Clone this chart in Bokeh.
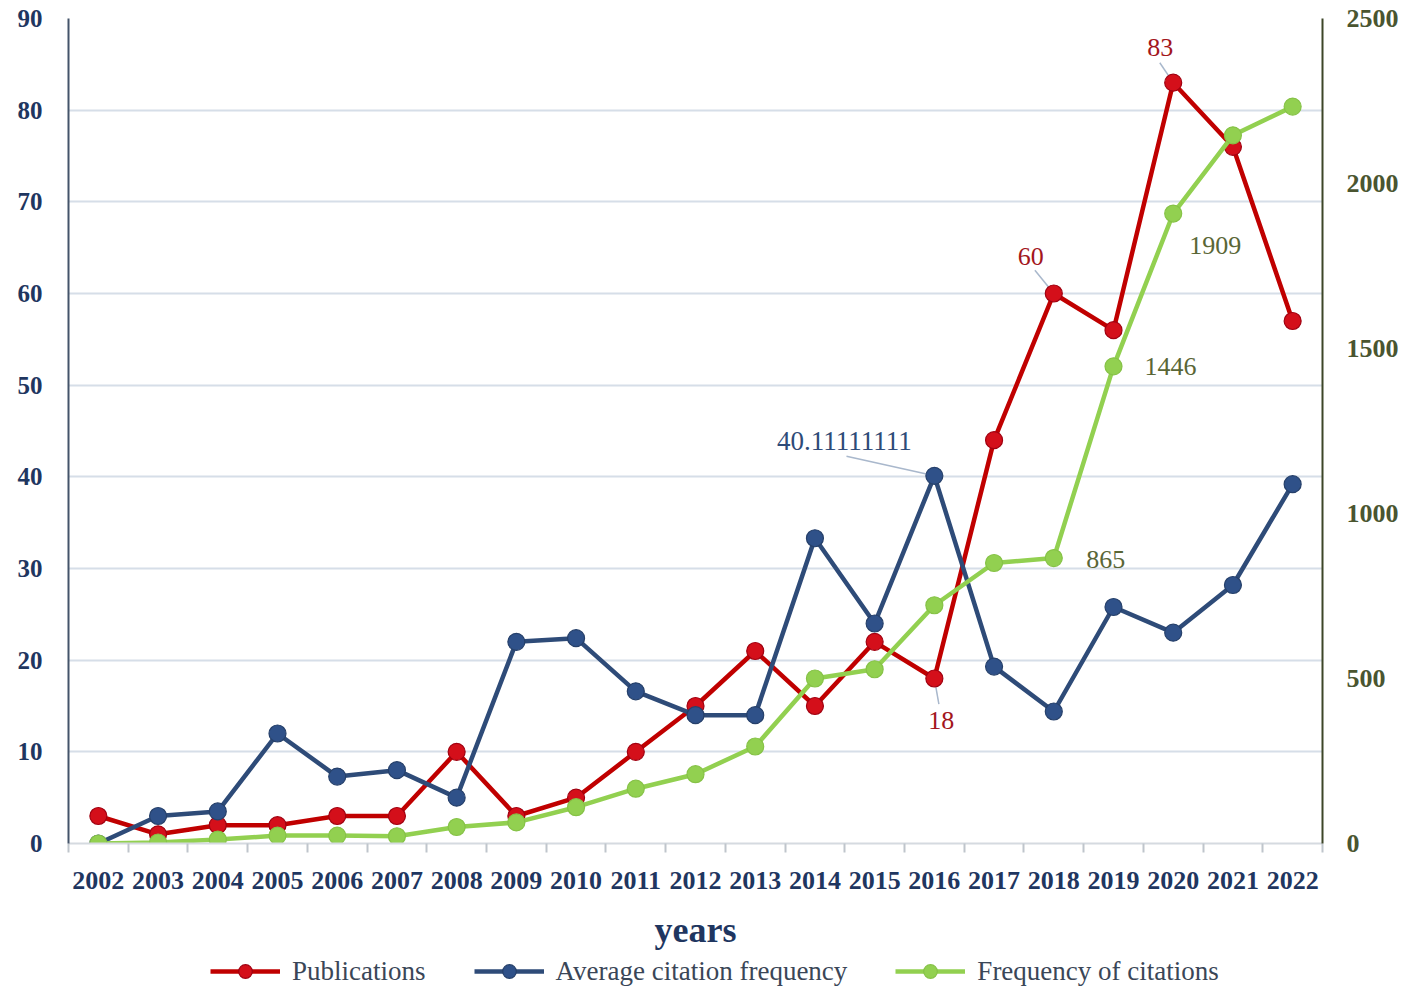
import math
from bokeh.plotting import figure
from bokeh.layouts import column
from bokeh.models import (Range1d, LinearAxis, FixedTicker, ColumnDataSource,
                          Legend, LegendItem)
from bokeh.core.properties import value
from bokeh.embed import file_html
from bokeh.resources import INLINE

years = list(range(2002, 2023))
publications = [3, 1, 2, 2, 3, 3, 10, 3, 5, 10, 15, 21, 15, 22, 18, 44, 60, 56, 83, 76, 57]
avg_citation = [0, 3, 3.5, 12, 7.3, 8, 5, 22, 22.4, 16.6, 14, 14, 33.3, 24, 40.11111111,
                19.3, 14.4, 25.8, 23, 28.2, 39.2]
citations = [0, 3, 12, 24, 24, 22, 50, 64, 110, 166, 210, 294, 500, 528, 722,
             850, 865, 1446, 1909, 2146, 2233]
left_ticks = [0, 10, 20, 30, 40, 50, 60, 70, 80, 90]
right_ticks = [0, 500, 1000, 1500, 2000, 2500]
series_names = ["Publications", "Average citation frequency", "Frequency of citations"]

SERIF = "Liberation Serif"
RED = "#C00000"
RED_M = "#D40F1A"
BLUE = "#2E4B78"
BLUE_M = "#2F5189"
GREEN = "#92D050"
NAVY = "#1F3660"
OLIVE = "#4A5530"

p = figure(frame_width=1254, frame_height=825, output_backend="svg", toolbar_location=None,
           x_range=Range1d(years[0] - 0.5, years[-1] + 0.5),
           y_range=Range1d(left_ticks[0], left_ticks[-1]),
           min_border_left=68, min_border_right=80, min_border_top=18,
           min_border_bottom=0)
p.outline_line_color = None
p.background_fill_color = "white"
p.extra_y_ranges = {"right": Range1d(right_ticks[0], right_ticks[-1])}

# x axis
xa = p.xaxis[0]
xa.ticker = FixedTicker(ticks=years, minor_ticks=[y - 0.5 for y in years] + [years[-1] + 0.5])
xa.major_tick_line_color = None
xa.minor_tick_line_color = "#BFC5CC"
xa.minor_tick_line_width = 2
xa.minor_tick_out = 9
xa.minor_tick_in = 0
xa.axis_line_color = "#D5DAE0"
xa.axis_line_width = 2
xa.major_label_text_font = SERIF
xa.major_label_text_font_style = "bold"
xa.major_label_text_font_size = "26px"
xa.major_label_text_color = NAVY
xa.major_label_standoff = 19
xa.axis_label = "years"
xa.axis_label_text_font = SERIF
xa.axis_label_text_font_style = "bold"
xa.axis_label_text_font_size = "36px"
xa.axis_label_text_color = NAVY
xa.axis_label_standoff = 18

# left axis
ya = p.yaxis[0]
ya.ticker = FixedTicker(ticks=left_ticks)
ya.major_tick_line_color = None
ya.minor_tick_line_color = None
ya.axis_line_color = "#44546A"
ya.axis_line_width = 2
ya.major_label_text_font = SERIF
ya.major_label_text_font_style = "bold"
ya.major_label_text_font_size = "25px"
ya.major_label_text_color = NAVY
ya.major_label_standoff = 20

# right axis
ra = LinearAxis(y_range_name="right", ticker=FixedTicker(ticks=right_ticks))
ra.major_tick_line_color = None
ra.minor_tick_line_color = None
ra.axis_line_color = "#3D4628"
ra.axis_line_width = 2
ra.major_label_text_font = SERIF
ra.major_label_text_font_style = "bold"
ra.major_label_text_font_size = "26px"
ra.major_label_text_color = OLIVE
ra.major_label_standoff = 18
p.add_layout(ra, "right")

p.xgrid.grid_line_color = None
p.ygrid.ticker = FixedTicker(ticks=left_ticks[1:])
p.ygrid.grid_line_color = "#D6DEE8"
p.ygrid.grid_line_width = 2

src = ColumnDataSource(dict(x=years, pub=publications, avg=avg_citation, cit=citations))

def idx(y):
    return years.index(y)

# leader lines (drawn first, under markers)
lead = ColumnDataSource(dict(
    x=[2020, 2018, 2016],
    y=[publications[idx(2020)], publications[idx(2018)], publications[idx(2016)]],
    angle=[math.radians(124), math.radians(129), math.radians(-80)],
    length=[24, 30, 26],
))
p.ray(x="x", y="y", angle="angle", length="length", length_units="screen", source=lead,
      line_color="#A9B8CC", line_width=1.5)
p.ray(x=[2016], y=[avg_citation[idx(2016)]], angle=math.radians(167.5), length=90,
      length_units="screen", line_color="#A9B8CC", line_width=1.5)

p.line(x="x", y="pub", source=src, line_color=RED, line_width=4.5)
p.scatter(x="x", y="pub", source=src, size=17, fill_color=RED_M,
          line_color="#A00010", line_width=1.2)
p.line(x="x", y="avg", source=src, line_color=BLUE, line_width=4.5)
p.scatter(x="x", y="avg", source=src, size=17, fill_color=BLUE_M,
          line_color="#26406A", line_width=1.2)
p.line(x="x", y="cit", source=src, line_color=GREEN, line_width=4.5, y_range_name="right")
p.scatter(x="x", y="cit", source=src, size=17, fill_color=GREEN,
          line_color="#86C247", line_width=1.2, y_range_name="right")

# data labels (positive y_offset = downwards)
pub_lab = ColumnDataSource(dict(
    x=[2020, 2018, 2016],
    y=[publications[idx(2020)], publications[idx(2018)], publications[idx(2016)]],
    t=[str(publications[idx(2020)]), str(publications[idx(2018)]), str(publications[idx(2016)])],
    xo=[-13, -23, 7], yo=[-35, -37, 42],
))
p.text(x="x", y="y", text="t", x_offset="xo", y_offset="yo", source=pub_lab,
       text_font=value(SERIF), text_font_size="26px", text_color="#A3161C",
       text_align="center", text_baseline="middle")
p.text(x=[2016], y=[avg_citation[idx(2016)]], text=["40.11111111"], x_offset=-90,
       y_offset=-35, text_font=value(SERIF), text_font_size="27px", text_color=BLUE,
       text_align="center", text_baseline="middle")
cit_lab = ColumnDataSource(dict(
    x=[2020, 2019, 2018],
    y=[citations[idx(2020)], citations[idx(2019)], citations[idx(2018)]],
    t=[str(citations[idx(2020)]), str(citations[idx(2019)]), str(citations[idx(2018)])],
    xo=[42, 57, 52], yo=[32, 0, 1],
))
p.text(x="x", y="y", text="t", x_offset="xo", y_offset="yo", source=cit_lab,
       y_range_name="right", text_font=value(SERIF), text_font_size="26px",
       text_color="#5A6636", text_align="center", text_baseline="middle")

# legend strip (separate small figure; its proxy renderers hold the series data,
# which lies outside this strip's 0..1 ranges, so only the legend is seen)
lg = figure(width=1402, height=36, output_backend="svg", toolbar_location=None,
            x_range=Range1d(0, 1), y_range=Range1d(0, 1),
            x_axis_type=None, y_axis_type=None,
            min_border_left=0, min_border_right=0, min_border_top=0, min_border_bottom=0)
lg.outline_line_color = None
lg.xgrid.grid_line_color = None
lg.ygrid.grid_line_color = None
items = []
for name, col, lc, fc, oc in ((series_names[0], "pub", RED, RED_M, "#A00010"),
                              (series_names[1], "avg", BLUE, BLUE_M, "#26406A"),
                              (series_names[2], "cit", GREEN, GREEN, "#86C247")):
    rl = lg.line(x="x", y=col, source=src, line_color=lc, line_width=4.5)
    rm = lg.scatter(x="x", y=col, source=src, size=17, fill_color=fc, line_color=oc,
                    line_width=1.2)
    items.append(LegendItem(label=name, renderers=[rl, rm]))

legend = Legend(items=items, orientation="horizontal", location=(142, 0))
legend.label_text_font = SERIF
legend.label_text_font_size = "27px"
legend.label_text_color = "#3A4657"
legend.glyph_width = 70
legend.glyph_height = 34
legend.label_standoff = 12
legend.spacing = 48
legend.padding = 0
legend.margin = 0
legend.border_line_color = None
legend.background_fill_alpha = 0
lg.add_layout(legend, "center")

layout = column(p, lg, spacing=0)
open("out.html", "w").write(file_html(layout, INLINE))
